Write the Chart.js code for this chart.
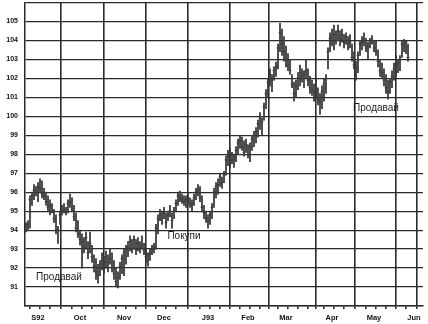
<!DOCTYPE html>
<html>
<head>
<meta charset="utf-8">
<script src="https://cdn.jsdelivr.net/npm/chart.js@4/dist/chart.umd.min.js"></script>
<style>
  html, body { margin: 0; padding: 0; background: #fff; }
  #wrap { width: 428px; height: 324px; position: relative; }
</style>
</head>
<body>
<div id="wrap"><canvas id="myChart"></canvas></div>
<script>
// daily bars, Sep 92 - early Jun 93 (one entry per trading day)
const highs = [
  94.4, 94.5, 95.8, 96.0, 96.4, 96.3, 96.5, 96.7, 96.6, 96.2, 96.0, 95.8, 95.6, 95.4, 95.1, 94.8, 94.2, 95.0, 95.3, 95.4, 95.2,
  95.6, 95.9, 95.7, 95.3, 94.9, 94.5, 94.0, 93.8, 93.6, 93.9, 93.4, 93.9, 93.2, 92.7, 92.5, 92.2, 92.4, 92.8, 92.6, 92.9, 92.7, 93.0,
  92.8, 92.4, 92.0, 91.8, 92.3, 92.7, 93.0, 93.2, 93.4, 93.7, 93.5, 93.7, 93.5, 93.6, 93.4, 93.7, 93.3, 93.0, 92.8, 93.0,
  93.2, 93.3, 94.3, 94.8, 95.1, 95.0, 95.2, 94.9, 95.0, 95.3, 94.9, 95.2, 95.6, 96.0, 96.05, 95.9, 95.8, 95.8, 95.9, 95.7, 95.6, 95.9,
  96.2, 96.4, 96.3, 95.8, 95.3, 95.0, 94.8, 95.0, 95.4, 96.2, 96.5, 96.7, 97.0, 96.8, 97.1, 97.9, 98.2, 98.3, 98.1, 98.0,
  98.4, 98.8, 99.0, 98.9, 98.7, 98.8, 98.5, 98.6, 99.0, 99.2, 99.4, 99.8, 100.2, 99.9, 100.7, 101.4, 102.0, 102.5, 102.2,
  102.6, 102.85, 103.8, 104.9, 104.6, 104.2, 103.7, 103.3, 103.0, 102.2, 101.8, 101.9, 102.3, 102.7, 102.5, 102.4, 103.0, 102.5, 102.1, 101.9, 101.7, 101.95, 101.5,
  101.2, 101.6, 102.0, 102.2, 103.6, 104.4, 104.6, 104.8, 104.5, 104.8, 104.5, 104.6, 104.3, 104.4, 104.2, 104.3, 103.8, 103.4, 102.9, 103.4, 104.0,
  104.2, 104.4, 104.1, 103.9, 104.1, 104.25, 104.0, 104.0, 103.5, 103.0, 102.8, 102.5, 102.2, 101.9, 102.0, 102.4, 102.8, 103.2, 103.0, 103.2,
  104.0, 104.05, 104.0, 103.8
];
const lows = [
  93.9, 94.0, 94.1, 95.3, 95.6, 95.8, 95.5, 96.0, 95.7, 95.6, 95.3, 95.0, 94.8, 94.9, 94.4, 93.8, 93.3, 94.3, 94.8, 94.9, 94.8,
  94.9, 95.2, 95.0, 94.5, 93.9, 93.6, 93.2, 92.0, 92.8, 93.0, 92.5, 92.8, 92.3, 91.8, 91.4, 91.2, 91.6, 91.9, 91.7, 92.0, 91.8, 92.2,
  91.8, 91.4, 91.0, 90.95, 91.4, 91.7, 91.6, 92.2, 92.6, 92.9, 92.8, 93.0, 92.7, 92.9, 92.8, 93.0, 92.7, 92.3, 92.1, 92.4,
  92.7, 92.8, 93.0, 93.8, 94.5, 94.3, 94.6, 94.1, 94.5, 94.7, 94.1, 94.6, 95.0, 95.3, 95.5, 95.4, 95.3, 95.2, 95.4, 95.2, 95.0, 95.3,
  95.6, 95.8, 95.5, 95.0, 94.6, 94.4, 94.1, 94.3, 94.6, 95.2, 95.7, 95.9, 96.3, 96.2, 96.5, 96.9, 97.4, 97.3, 97.5, 97.3,
  97.6, 98.0, 98.3, 98.2, 97.9, 98.1, 97.8, 97.6, 98.2, 98.4, 98.6, 98.9, 99.3, 99.0, 99.8, 100.4, 101.0, 101.6, 101.3,
  101.9, 102.1, 102.5, 103.4, 103.2, 102.9, 102.6, 102.4, 102.2, 101.5, 100.8, 101.0, 101.4, 101.6, 101.8, 101.5, 102.0, 101.6, 101.2, 101.1, 100.8, 101.0, 100.6,
  100.1, 100.4, 100.8, 101.2, 102.5, 103.4, 103.7, 103.5, 103.8, 104.0, 103.7, 103.9, 103.6, 103.8, 103.5, 103.6, 102.9, 102.5, 101.9, 102.3, 103.2,
  103.5, 103.7, 103.4, 103.0, 103.6, 103.8, 103.4, 103.2, 102.6, 102.1, 102.0, 101.6, 101.2, 100.9, 101.2, 101.5, 101.9, 102.1, 102.3, 102.4,
  103.1, 103.4, 103.3, 102.9
];
const closes = [
  94.2, 94.3, 95.6, 95.8, 96.1, 96.0, 96.3, 96.2, 95.9, 95.8, 95.5, 95.2, 95.3, 95.0, 94.6, 94.0, 94.0, 94.8, 95.0, 95.1, 95.0,
  95.4, 95.5, 95.1, 94.7, 94.1, 93.8, 93.5, 93.4, 93.1, 93.6, 92.8, 93.3, 92.6, 92.1, 91.8, 91.6, 92.2, 92.4, 92.0, 92.6, 92.3, 92.5,
  92.0, 91.7, 91.3, 91.5, 92.1, 92.5, 92.8, 93.0, 93.1, 93.4, 93.0, 93.5, 93.0, 93.3, 93.1, 93.2, 92.9, 92.6, 92.7, 92.8,
  93.0, 93.1, 94.1, 94.6, 94.8, 94.6, 94.9, 94.4, 94.8, 95.0, 94.5, 95.0, 95.4, 95.8, 95.7, 95.6, 95.5, 95.6, 95.5, 95.3, 95.4, 95.7,
  96.0, 96.1, 95.7, 95.2, 94.9, 94.6, 94.5, 94.8, 95.2, 96.0, 96.3, 96.4, 96.8, 96.5, 96.9, 97.7, 97.9, 98.0, 97.7, 97.8,
  98.2, 98.6, 98.7, 98.4, 98.1, 98.5, 98.0, 98.4, 98.8, 99.0, 99.2, 99.6, 99.9, 99.7, 100.5, 101.2, 101.8, 102.2, 101.9,
  102.4, 102.6, 103.6, 104.4, 103.8, 103.4, 103.0, 102.7, 102.4, 101.7, 101.2, 101.6, 102.0, 102.3, 102.1, 102.2, 102.4, 101.9, 101.5, 101.4, 101.3, 101.2, 100.9,
  100.8, 101.3, 101.7, 102.0, 103.4, 104.1, 104.2, 104.3, 104.0, 104.5, 104.1, 104.3, 103.9, 104.2, 103.8, 103.9, 103.1, 102.7, 102.6, 103.2, 103.8,
  103.9, 104.0, 103.6, 103.7, 103.9, 104.0, 103.6, 103.4, 102.9, 102.4, 102.3, 101.9, 101.5, 101.3, 101.8, 102.1, 102.5, 102.7, 102.8, 103.0,
  103.8, 103.7, 103.9, 103.1
];
const monthLabels = ['S92', 'Oct', 'Nov', 'Dec', 'J93', 'Feb', 'Mar', 'Apr', 'May', 'Jun'];
const monthStarts = [0, 21, 43, 63, 85, 105, 124, 147, 168, 188];  // trading-day index of each month's first bar
const noteTexts = ['Продавай', 'Покупи', 'Продавай'];

const lastDay = 199;
const ink = '#2a2a2a';

// month gridlines + small weekly marks on the date axis
let xTicks = [];
monthStarts.forEach((m, k) => {
  let next = k < monthStarts.length - 1 ? monthStarts[k + 1] : lastDay;
  xTicks.push(m);
  for (let w = 5; m + w < next - 2; w += 5) xTicks.push(m + w);
});
xTicks.push(lastDay);

function isMonth(v) {
  return monthStarts.includes(v) || v === lastDay;
}

// writes the buy/sell notes
const notesPlugin = {
  id: 'notes',
  afterDatasetsDraw(chart, args, opts) {
    const ctx = chart.ctx;
    const x = chart.scales.x, y = chart.scales.y;
    ctx.save();
    ctx.font = opts.font;
    ctx.fillStyle = opts.color;
    ctx.textAlign = 'center';
    ctx.textBaseline = 'middle';
    opts.items.forEach(n => {
      ctx.fillText(n.text, x.getPixelForValue(n.day), y.getPixelForValue(n.price));
    });
    ctx.restore();
  }
};

let ctx = document.getElementById('myChart');

let myChart = new Chart(ctx, {
  type: 'bar',
  data: {
    datasets: [{
      label: 'range',
      data: highs.map((h, i) => ({ x: i + 0.5, y: [lows[i], h] })),
      backgroundColor: '#383838',
      borderWidth: 0,
      barThickness: 1.1
    }, {
      type: 'line',
      label: 'close',
      data: closes.map((c, i) => ({ x: i + 0.5, y: c })),
      showLine: false,
      pointStyle: 'line',
      pointRadius: 1.4,
      pointBorderWidth: 1,
      borderColor: '#383838',
      pointHoverRadius: 0
    }]
  },
  options: {
    responsive: true,
    maintainAspectRatio: false,
    animation: false,
    events: [],
    layout: { padding: { top: 1, right: 5, left: 0, bottom: 0 } },
    plugins: {
      legend: { display: false },
      tooltip: { enabled: false },
      notes: {
        font: '10px "Liberation Sans", Arial, sans-serif',
        color: '#222',
        items: [
          { text: noteTexts[0], day: 17, price: 91.5 },
          { text: noteTexts[1], day: 79.5, price: 93.65 },
          { text: noteTexts[2], day: 175.5, price: 100.4 }
        ]
      }
    },
    scales: {
      x: {
        type: 'linear',
        offset: false,
        min: 0,
        max: lastDay,
        afterFit: s => { s.height = 18; s.paddingLeft = 0; s.paddingRight = 0; },
        afterBuildTicks: s => { s.ticks = xTicks.map(v => ({ value: v })); },
        border: { display: true, color: ink, width: 1.5 },
        grid: {
          color: c => (c.tick && isMonth(c.tick.value)) ? ink : 'rgba(0,0,0,0)',
          tickColor: ink,
          lineWidth: 1.6,
          tickLength: 3
        },
        ticks: {
          autoSkip: false,
          maxRotation: 0,
          labelOffset: 13,
          padding: 4,
          color: '#111',
          font: { family: '"Liberation Sans", Arial, sans-serif', size: 7.5, weight: 'bold' },
          callback: v => {
            let k = monthStarts.indexOf(v);
            return k >= 0 ? monthLabels[k] : '';
          }
        }
      },
      y: {
        type: 'linear',
        min: 90,
        max: 106,
        afterFit: s => { s.width = 25; s.paddingTop = 0; s.paddingBottom = 0; },
        border: { display: true, color: ink, width: 1.5 },
        grid: { color: ink, lineWidth: 1.2, drawTicks: false },
        ticks: {
          stepSize: 1,
          padding: 7,
          color: '#111',
          font: { family: '"Liberation Sans", Arial, sans-serif', size: 7, weight: 'bold' },
          callback: v => (v > 90 && v < 106) ? v : ''
        }
      }
    }
  },
  plugins: [notesPlugin]
});
</script>
</body>
</html>
